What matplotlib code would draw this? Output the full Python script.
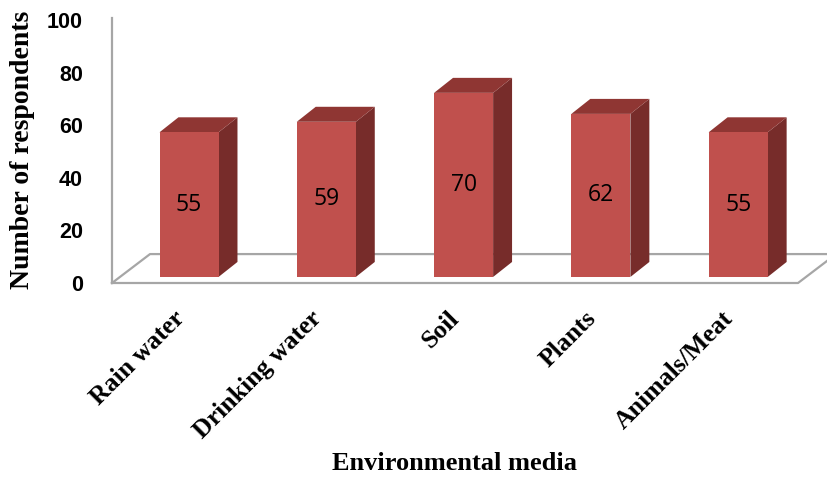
import numpy as np
import matplotlib
matplotlib.use('Agg')
import matplotlib.pyplot as plt
from matplotlib.patches import Polygon

# survey data
categories = ['Rain water', 'Drinking water', 'Soil', 'Plants', 'Animals/Meat']
respondents = [55, 59, 70, 62, 55]
y_ticks = [0, 20, 40, 60, 80, 100]

# colours of the pseudo 3d bars
front_col = '#C0504D'
top_col = '#8F3633'
side_col = '#772C2A'
grid_col = '#A6A6A6'

fig = plt.figure(figsize=(8.27, 4.84), dpi=100)
ax = fig.add_axes([112/827, (484-283)/484, 715/827, 265/484])

x = np.arange(len(categories))
bar_w = 0.43
base = 2.3           # bars stand a bit behind the front edge of the floor
dx, dz = 0.138, 5.7  # depth of each bar
fdx, fdz = 0.277, 11.0  # depth of the floor
fl_left, fl_right = -0.561, 4.436

ax.set_xlim(-0.561, 4.647)
ax.set_ylim(0, 100.76)

# floor outline
floor = [(fl_left, 0), (fl_right, 0), (fl_right + fdx, fdz), (fl_left + fdx, fdz), (fl_left, 0)]
fx, fy = zip(*floor)
ax.plot(fx, fy, color=grid_col, lw=1.6, clip_on=False, zorder=1)

# front faces
ax.bar(x, respondents, width=bar_w, bottom=base, color=front_col, zorder=3)

for xi, v in zip(x, respondents):
    l, r = xi - bar_w/2, xi + bar_w/2
    top = base + v
    side = Polygon([(r, base), (r + dx, base + dz), (r + dx, top + dz), (r, top)],
                   closed=True, facecolor=side_col, edgecolor='none', zorder=2)
    lid = Polygon([(l, top), (r, top), (r + dx, top + dz), (l + dx, top + dz)],
                  closed=True, facecolor=top_col, edgecolor='none', zorder=2)
    ax.add_patch(side)
    ax.add_patch(lid)
    ax.text(xi, base + v/2, str(v), ha='center', va='center', fontsize=16.5,
            family='Open Sans', color='black', zorder=4)

for s in ['top', 'right', 'bottom']:
    ax.spines[s].set_visible(False)
ax.spines['left'].set_color(grid_col)
ax.spines['left'].set_linewidth(1.6)

ax.set_yticks(y_ticks)
ax.set_yticklabels([str(t) for t in y_ticks], fontsize=15.5, fontweight='bold',
                   family='Liberation Sans')
ax.tick_params(axis='y', length=0, pad=21)

# labels sit slightly left of the bar fronts
ax.set_xticks(x - 0.06)
ax.set_xticklabels(categories, fontsize=18.5, fontweight='bold', family='Liberation Serif')
ax.tick_params(axis='x', length=0, pad=23)
plt.setp(ax.get_xticklabels(), rotation=45, ha='right', va='center', rotation_mode='anchor')

fig.text(23/827, 1 - 150/484, 'Number of respondents', rotation=90, ha='center', va='center',
         fontsize=20, fontweight='bold', family='Liberation Serif')
fig.text(454/827, 1 - 463/484, 'Environmental media', ha='center', va='center',
         fontsize=19, fontweight='bold', family='Liberation Serif')

plt.savefig('out.png', dpi=100)
